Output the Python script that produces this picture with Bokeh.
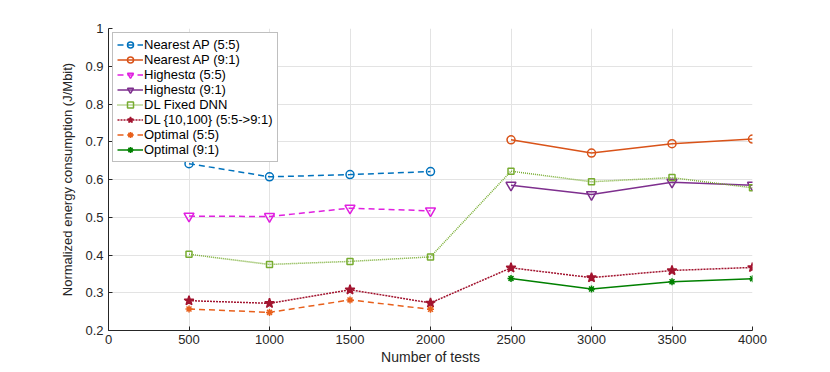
from bokeh.plotting import figure
from bokeh.models import FixedTicker, Range1d, Legend
from bokeh.embed import file_html
from bokeh.resources import INLINE

x_a = [500, 1000, 1500, 2000]
x_b = [2500, 3000, 3500, 4000]
x_all = x_a + x_b

nearest_55 = [0.642, 0.607, 0.613, 0.621]
nearest_91 = [0.705, 0.670, 0.695, 0.707]
highest_55 = [0.503, 0.502, 0.524, 0.517]
highest_91 = [0.585, 0.560, 0.593, 0.585]
dl_fixed = [0.402, 0.375, 0.383, 0.395, 0.622, 0.594, 0.605, 0.578]
dl_adapt = [0.279, 0.272, 0.308, 0.273, 0.366, 0.340, 0.359, 0.367]
optimal_55 = [0.257, 0.248, 0.281, 0.256]
optimal_91 = [0.338, 0.310, 0.329, 0.337]

x_ticks = [0, 500, 1000, 1500, 2000, 2500, 3000, 3500, 4000]
y_ticks = [0.2, 0.3, 0.4, 0.5, 0.6, 0.7, 0.8, 0.9, 1.0]
y_tick_labels = ["0.2", "0.3", "0.4", "0.5", "0.6", "0.7", "0.8", "0.9", "1"]

FONT = "Liberation Sans"

p = figure(width=814, height=370, output_backend="svg", toolbar_location=None,
           x_range=Range1d(0, 4000), y_range=Range1d(0.2, 1.0),
           min_border_left=108, min_border_right=62, min_border_top=28, min_border_bottom=40)
p.outline_line_color = None
p.background_fill_color = "white"

for ax in (p.xaxis[0], p.yaxis[0]):
    ax.axis_line_color = "#262626"
    ax.major_tick_line_color = "#262626"
    ax.major_tick_in = 4
    ax.major_tick_out = 0
    ax.minor_tick_line_color = None
    ax.major_label_text_font = FONT
    ax.major_label_text_font_size = "13px"
    ax.major_label_text_color = "#262626"
    ax.axis_label_text_font = FONT
    ax.axis_label_text_font_style = "normal"
    ax.axis_label_text_color = "#262626"

p.xaxis[0].axis_label_text_font_size = "14px"
p.yaxis[0].axis_label_text_font_size = "13px"
p.xaxis[0].ticker = FixedTicker(ticks=x_ticks)
p.yaxis[0].ticker = FixedTicker(ticks=y_ticks)
p.yaxis[0].major_label_overrides = {t: l for t, l in zip(y_ticks, y_tick_labels)}
p.xaxis[0].major_label_standoff = 4
p.yaxis[0].major_label_standoff = 5
p.xaxis[0].axis_label = "Number of tests"
p.yaxis[0].axis_label = "Normalized energy consumption (J/Mbit)"
p.xaxis[0].axis_label_standoff = 2
p.yaxis[0].axis_label_standoff = 7

p.xgrid.ticker = FixedTicker(ticks=x_ticks)
p.ygrid.ticker = FixedTicker(ticks=y_ticks)
p.grid.grid_line_color = "#e3e3e3"
p.grid.grid_line_width = 1

series = [
    ("Nearest AP (5:5)", x_a, nearest_55, "#0072BD", "6 4", "circle", 8, False),
    ("Nearest AP (9:1)", x_b, nearest_91, "#D95319", "solid", "circle", 8, False),
    ("Highestα (5:5)", x_a, highest_55, "#E020E0", "6 4", "inverted_triangle", 10, False),
    ("Highestα (9:1)", x_b, highest_91, "#7E2F8E", "solid", "inverted_triangle", 10, False),
    ("DL Fixed DNN", x_all, dl_fixed, "#77AC30", "1 1", "square", 6, False),
    ("DL {10,100} (5:5->9:1)", x_all, dl_adapt, "#A2142F", "2 1", "star", 10, True),
    ("Optimal (5:5)", x_a, optimal_55, "#E8601C", "6 4", "asterisk", 7, True),
    ("Optimal (9:1)", x_b, optimal_91, "#008000", "solid", "asterisk", 7, True),
]

items = []
for label, xs, ys, color, dash, marker, size, filled in series:
    r1 = p.line(xs, ys, line_color=color, line_width=1.5, line_dash=dash)
    r2 = p.scatter(xs, ys, marker=marker, size=size, line_color=color, line_width=1.5,
                   fill_color=color if filled else None)
    items.append((label, [r1, r2]))

legend = Legend(items=items, location="top_left")
legend.label_text_font = FONT
legend.label_text_font_size = "13px"
legend.label_text_color = "#000000"
legend.border_line_color = "#7f7f7f"
legend.border_line_width = 1
legend.background_fill_alpha = 1
legend.spacing = 0
legend.padding = 4
legend.margin = 4
legend.label_height = 15
legend.glyph_height = 15
legend.glyph_width = 26
legend.label_standoff = 1
p.add_layout(legend, "center")

open("out.html", "w").write(file_html(p, INLINE))
